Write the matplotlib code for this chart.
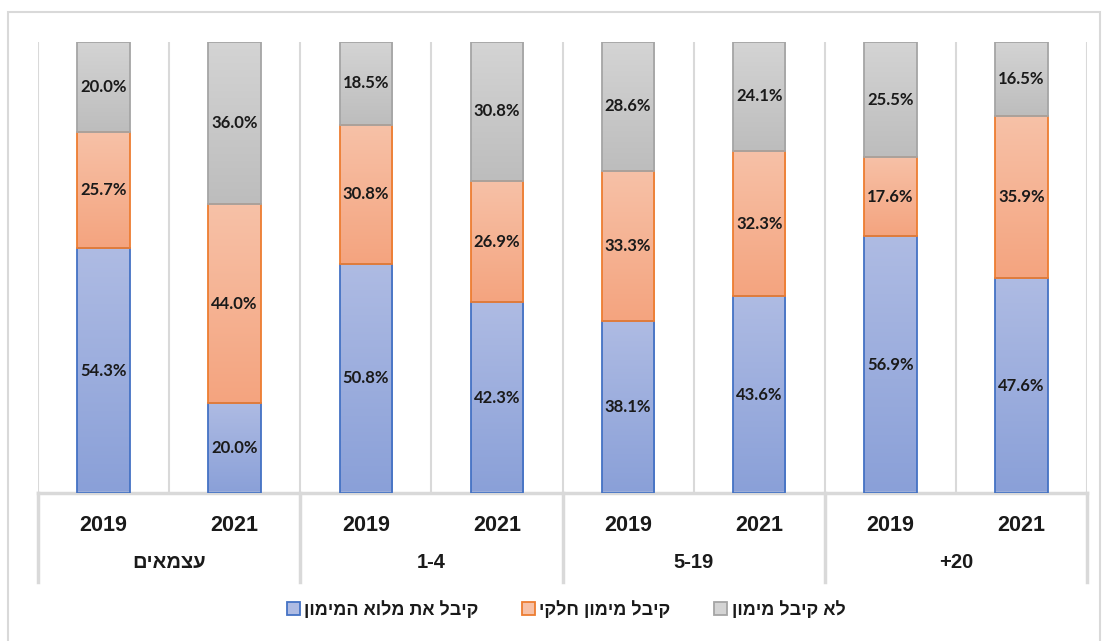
import numpy as np
import matplotlib.pyplot as plt
from matplotlib.patches import Rectangle
from matplotlib.colors import to_rgb
import matplotlib.transforms as mtransforms

plt.rcParams['font.family'] = ['Liberation Sans', 'DejaVu Sans']

# data
groups = ['עצמאים', '1-4', '5-19', '+20']
years = ['2019', '2021']
full_funding = [54.3, 20.0, 50.8, 42.3, 38.1, 43.6, 56.9, 47.6]
partial_funding = [25.7, 44.0, 30.8, 26.9, 33.3, 32.3, 17.6, 35.9]
no_funding = [20.0, 36.0, 18.5, 30.8, 28.6, 24.1, 25.5, 16.5]
series_names = ['קיבל את מלוא המימון', 'קיבל מימון חלקי', 'לא קיבל מימון']


def rtl(s):
    # matplotlib has no bidi support, so flip hebrew strings for display
    if any('\u0590' <= c <= '\u05ff' for c in s):
        return s[::-1]
    return s


# (top colour, bottom colour, edge colour)
styles = [('#aebbe3', '#8aa0d8', '#4472c4'),
          ('#f7c1a7', '#f4a47f', '#ed7d31'),
          ('#d4d4d4', '#bdbdbd', '#a5a5a5')]

W, H = 1103, 641
fig = plt.figure(figsize=(W / 100, H / 100), dpi=100)

# outer chart frame
fig.patches.append(Rectangle((8 / W, -0.1), (1100 - 8) / W, 1.1 - 12 / H,
                             transform=fig.transFigure, fill=False,
                             edgecolor='#d9d9d9', lw=1.5))

ax = fig.add_axes([38 / W, 1 - 493 / H, (1087 - 38) / W, (493 - 42) / H])

n = len(full_funding)
x = np.arange(n)
width = 0.4


def gradient_bar(xc, bottom, height, top_c, bot_c, edge):
    grad = np.linspace(0, 1, 64)[:, None, None]
    img = (1 - grad) * np.array(to_rgb(top_c)) + grad * np.array(to_rgb(bot_c))
    ax.imshow(img, extent=(xc - width / 2, xc + width / 2, bottom, bottom + height),
              origin='upper', aspect='auto', zorder=2, interpolation='bilinear')
    ax.add_patch(Rectangle((xc - width / 2, bottom), width, height, fill=False,
                           edgecolor=edge, lw=1.3, zorder=3))


bottoms = np.zeros(n)
for vals, (tc, bc, ec) in zip([full_funding, partial_funding, no_funding], styles):
    for i, v in enumerate(vals):
        gradient_bar(x[i], bottoms[i], v, tc, bc, ec)
        ax.text(x[i], bottoms[i] + v / 2, f'{v:.1f}%', ha='center', va='center',
                fontsize=12, fontweight='bold', family=['Lato', 'DejaVu Sans'],
                color='#1a1a1a', zorder=4)
    bottoms += np.array(vals)

ax.set_xlim(-0.5, n - 0.5)
ax.set_ylim(0, 100)

# vertical separators between bars
ax.set_xticks(np.arange(-0.5, n), minor=True)
ax.grid(which='minor', axis='x', color='#d9d9d9', lw=1.5, zorder=0)
ax.tick_params(which='minor', length=0)

ax.set_xticks(x)
ax.set_xticklabels(years * len(groups), fontsize=15.5, fontweight='bold',
                   color='#1a1a1a')
ax.tick_params(axis='x', which='major', length=0, pad=15.5)
ax.set_yticks([])
for s in ['top', 'left', 'right']:
    ax.spines[s].set_visible(False)
ax.spines['bottom'].set_color('#d9d9d9')
ax.spines['bottom'].set_linewidth(2.5)

# two level category table
trans = mtransforms.blended_transform_factory(ax.transData, ax.transAxes)
for b in np.arange(-0.5, n, 2):
    ax.plot([b, b], [0, -0.198], transform=trans, color='#d9d9d9', lw=2.5,
            clip_on=False)
for gi, g in enumerate(groups):
    ax.text(gi * 2 + 0.5, -0.155, rtl(g), transform=trans, ha='center',
            va='center', fontsize=14.5, fontweight='bold', color='#1a1a1a')

# legend
handles = [Rectangle((0, 0), 1, 1, facecolor=tc, edgecolor=ec, lw=1.3)
           for tc, bc, ec in styles]
fig.legend(handles, [rtl(s) for s in series_names], loc='center',
           bbox_to_anchor=(566 / W, 1 - 610 / H), ncol=3, frameon=False,
           prop={'size': 13, 'weight': 'bold'}, handlelength=0.72,
           handleheight=0.72, handletextpad=0.25, columnspacing=2.4,
           labelcolor='#1a1a1a')

fig.savefig('out.png', dpi=100)
